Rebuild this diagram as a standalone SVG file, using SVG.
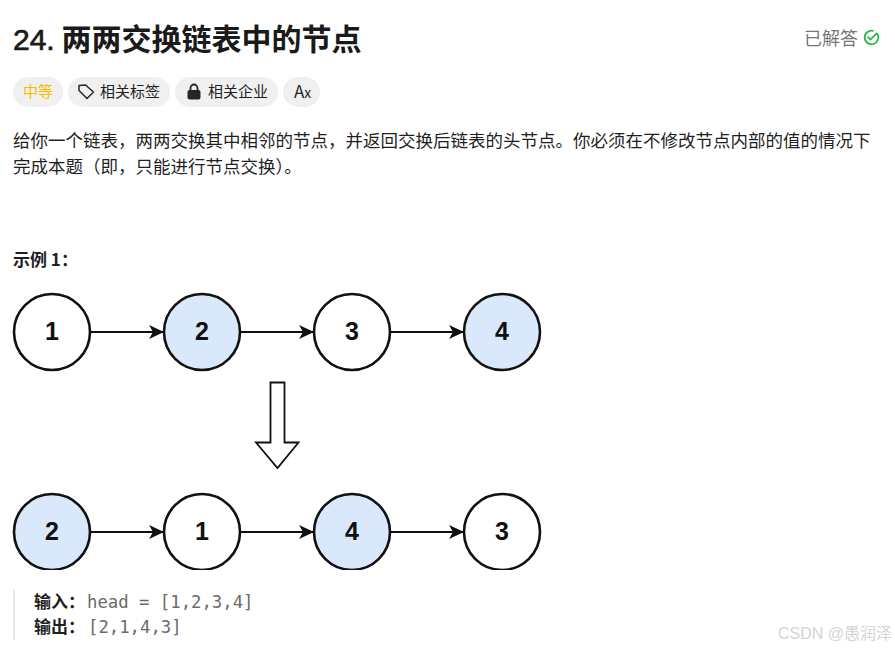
<svg xmlns="http://www.w3.org/2000/svg" width="895" height="648" viewBox="0 0 895 648">
<style>
text{font-family:"Liberation Sans","Noto Sans CJK SC",sans-serif;fill:#262626}
.t{font-family:"Noto Sans CJK SC","Liberation Sans",sans-serif}
.pill{fill:#f0f0f0}
.tag{font-size:15px;fill:#1f1f1f}
.p{font-size:17.5px;fill:#1f1f1f}
.b{font-size:17px;font-weight:700;fill:#1f1f1f}
.m{font-family:"DejaVu Sans Mono","Liberation Mono",monospace;font-size:17.3px;fill:#6b6b6b}
.n{stroke:#111;stroke-width:2.6;fill:#fff}
.n2{stroke:#111;stroke-width:2.6;fill:#dae8fc}
.l{font-size:25px;font-weight:700;fill:#111;text-anchor:middle}
.c{stroke:#111;stroke-width:2.2;fill:none;marker-end:url(#a)}
</style>
<defs><marker id="a" markerUnits="userSpaceOnUse" markerWidth="16" markerHeight="16" refX="15" refY="8" orient="auto"><path d="M0 1L15 8L0 15L4 8Z" fill="#111"/></marker></defs>
<rect width="895" height="648" fill="#fff"/>
<text x="13" y="50" font-size="30" font-weight="700" class="t" style="fill:#1a1a1a"><tspan font-family="Liberation Sans" font-weight="400" stroke="#1a1a1a" stroke-width=".7">24.</tspan> 两两交换链表中的节点</text>
<text x="804" y="45" font-size="18" class="t" style="fill:#777">已解答</text>
<g fill="none" stroke="#1cba3f" stroke-width="1.700"><path d="M877 33.500A6.800 6.800 0 1 1 873.500 31"/><path d="M867.500 36.500L870.500 39.500L877 33"/></g>
<rect class="pill" x="13" y="77" width="50" height="30" rx="15"/>
<text x="23" y="97" class="tag t" style="fill:#ffb800">中等</text>
<rect class="pill" x="68" y="77" width="102" height="30" rx="15"/>
<path d="M79 85.500L79 90.500L87 98.500L93.500 92L85.500 85Z" fill="none" stroke="#262626" stroke-width="1.500" stroke-linejoin="round"/>
<text x="100" y="97" class="tag t">相关标签</text>
<rect class="pill" x="175" y="77" width="103" height="30" rx="15"/>
<rect x="187.500" y="90" width="13" height="9.500" rx="2" fill="#262626"/><path d="M190.500 90V88a3.500 3.500 0 0 1 7 0V90" fill="none" stroke="#262626" stroke-width="1.800"/>
<text x="208" y="97" class="tag t">相关企业</text>
<rect class="pill" x="283" y="77" width="37" height="30" rx="15"/>
<text x="294" y="98" font-size="17" class="t">A<tspan font-size="14">x</tspan></text>
<text x="13" y="147" class="p t">给你一个链表，两两交换其中相邻的节点，并返回交换后链表的头节点。你必须在不修改节点内部的值的情况下</text>
<text x="13" y="173" class="p t">完成本题（即，只能进行节点交换）。</text>
<text x="13" y="266" class="b t">示例 1：</text>
<g id="connectors">
<path class="c" d="M91 332H164"/><path class="c" d="M241 332H314"/><path class="c" d="M391 332H464"/>
<path class="c" d="M91 532H164"/><path class="c" d="M241 532H314"/><path class="c" d="M391 532H464"/>
</g>
<path id="transform-arrow" d="M270.500 382.500H284.500V442.500H298.500L277.500 468L256 442.500H270.500Z" fill="#fff" stroke="#111" stroke-width="1.800"/>
<g id="n1"><circle class="n" cx="52" cy="332" r="38"/><text class="l" x="52" y="340">1</text></g>
<g id="n2"><circle class="n2" cx="202" cy="332" r="38"/><text class="l" x="202" y="340">2</text></g>
<g id="n3"><circle class="n" cx="352" cy="332" r="38"/><text class="l" x="352" y="340">3</text></g>
<g id="n4"><circle class="n2" cx="502" cy="332" r="38"/><text class="l" x="502" y="340">4</text></g>
<g id="m2"><circle class="n2" cx="52" cy="532" r="38"/><text class="l" x="52" y="540">2</text></g>
<g id="m1"><circle class="n" cx="202" cy="532" r="38"/><text class="l" x="202" y="540">1</text></g>
<g id="m4"><circle class="n2" cx="352" cy="532" r="38"/><text class="l" x="352" y="540">4</text></g>
<g id="m3"><circle class="n" cx="502" cy="532" r="38"/><text class="l" x="502" y="540">3</text></g>
<rect x="0" y="570" width="560" height="20" fill="#fff"/>
<rect x="13" y="590" width="2" height="50" fill="#e8e8e8"/>
<text x="34" y="608" class="b t">输入：</text><text x="87" y="608" class="m">head = [1,2,3,4]</text>
<text x="34" y="633" class="b t">输出：</text><text x="88" y="633" class="m">[2,1,4,3]</text>
<text x="778" y="639" font-size="16" style="fill:#d4d4d4">CSDN @<tspan class="t">愚润泽</tspan></text>
</svg>
